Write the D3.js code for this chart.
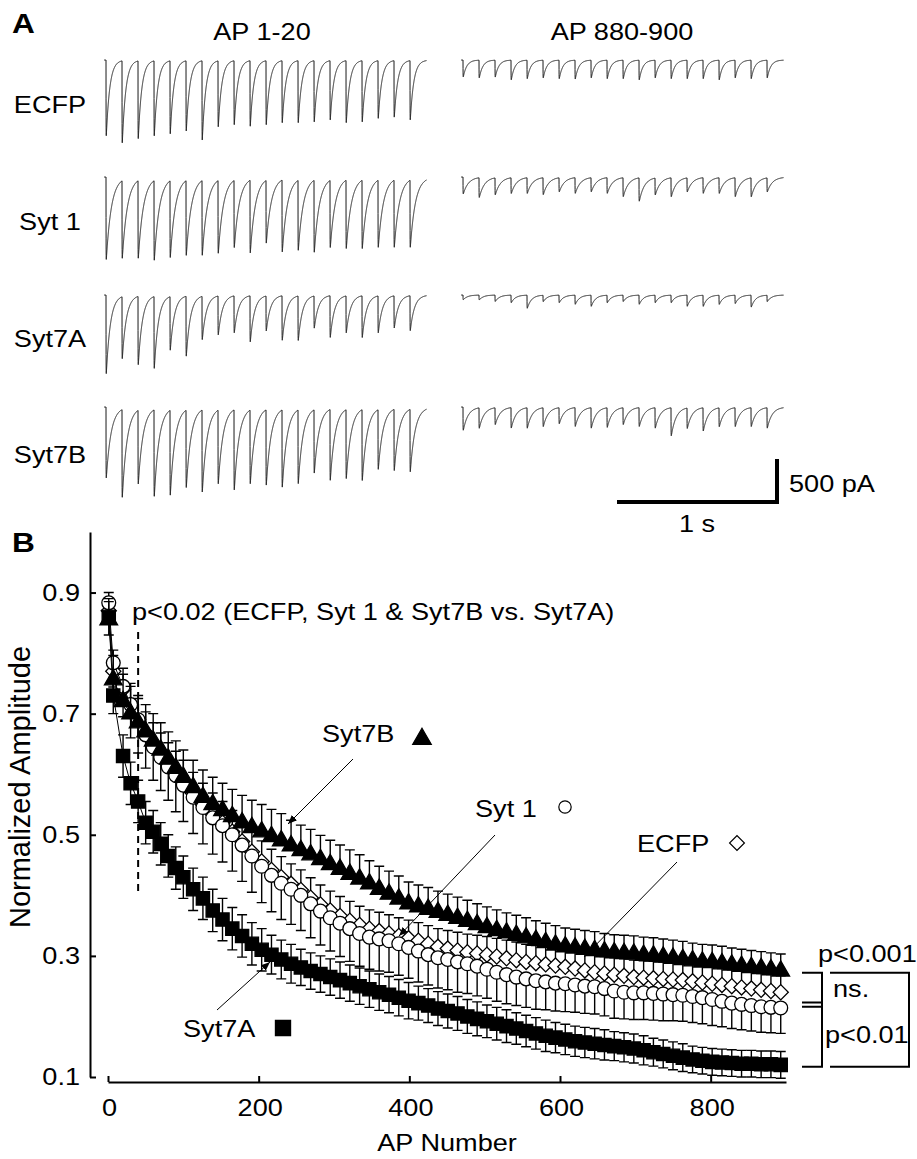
<!DOCTYPE html>
<html>
<head>
<meta charset="utf-8">
<title>Syt7 EPSC depression</title>
<script src="https://cdn.jsdelivr.net/npm/d3@7"></script>
<style>
  body { margin: 0; background: #fff; }
  svg text { font-family: "Liberation Sans", Arial, Helvetica, sans-serif; fill: #000; }
</style>
</head>
<body>
<svg id="fig" width="917" height="1159"></svg>
<script>
// ---------- panel A : peak EPSC amplitude (pA) of each of the 20 responses ----------
var traceNames = ["ECFP", "Syt 1", "Syt7A", "Syt7B"];
var ampEarlyECFP  = [965, 1045, 990, 955, 930, 895, 1010, 840, 815, 835, 815, 790, 790, 780, 755, 790, 780, 735, 720, 755];
var ampEarlySyt1  = [1025, 965, 965, 990, 955, 930, 930, 905, 835, 905, 780, 895, 870, 895, 835, 850, 850, 835, 835, 835];
var ampEarlySyt7A = [990, 780, 860, 905, 675, 755, 545, 490, 465, 580, 440, 560, 560, 405, 525, 465, 525, 465, 405, 440];
var ampEarlySyt7B = [885, 1095, 920, 1080, 1060, 965, 1025, 920, 1000, 920, 940, 965, 920, 790, 885, 860, 885, 745, 765, 780];
var ampLateECFP   = [215, 225, 215, 250, 235, 225, 235, 240, 225, 235, 235, 250, 225, 235, 235, 235, 250, 225, 235, 225];
var ampLateSyt1   = [210, 245, 210, 195, 195, 210, 175, 195, 175, 195, 235, 290, 210, 235, 175, 195, 195, 235, 235, 175];
var ampLateSyt7A  = [60, 60, 80, 95, 165, 80, 95, 115, 140, 95, 80, 115, 95, 95, 140, 140, 115, 105, 150, 80];
var ampLateSyt7B  = [290, 255, 210, 255, 255, 235, 200, 235, 255, 245, 210, 235, 255, 350, 255, 290, 235, 235, 235, 255];
var decayMs = [22, 32, 26, 30];   // EPSC decay time constant per row
var stimHz = 10;

// ---------- panel B : normalized amplitude vs AP number ----------
var apNumber = [1, 7, 20, 30, 40, 50, 60, 70, 80, 90, 100,
  113, 126, 139, 152, 165, 178, 191, 204, 217, 230,
  243, 256, 269, 282, 295, 308, 321, 334, 347, 360,
  373, 386, 399, 412, 425, 438, 451, 464, 477, 490,
  503, 516, 529, 542, 555, 568, 581, 594, 607, 620,
  633, 646, 659, 672, 685, 698, 711, 724, 737, 750,
  763, 776, 789, 802, 815, 828, 841, 854, 867, 880, 893];

var ecfpMean = [0.87, 0.77, 0.74, 0.715, 0.69, 0.668, 0.65, 0.633, 0.617, 0.603, 0.588,
  0.568, 0.55, 0.534, 0.52, 0.505, 0.489, 0.472, 0.456, 0.442, 0.43,
  0.419, 0.409, 0.396, 0.385, 0.375, 0.366, 0.358, 0.351, 0.345, 0.341,
  0.337, 0.333, 0.329, 0.325, 0.32, 0.315, 0.312, 0.309, 0.306, 0.304,
  0.302, 0.299, 0.296, 0.293, 0.29, 0.288, 0.286, 0.284, 0.282, 0.279,
  0.276, 0.273, 0.271, 0.269, 0.267, 0.265, 0.264, 0.263, 0.262, 0.261,
  0.26, 0.258, 0.256, 0.254, 0.252, 0.25, 0.248, 0.246, 0.244, 0.242, 0.24];
var ecfpSem = [0.03, 0.035, 0.035, 0.035, 0.035, 0.035, 0.035, 0.035, 0.035, 0.035, 0.035,
  0.035, 0.035, 0.035, 0.035, 0.035, 0.034, 0.034, 0.034, 0.034, 0.034,
  0.033, 0.033, 0.033, 0.032, 0.032, 0.032, 0.032, 0.031, 0.031, 0.031,
  0.031, 0.03, 0.03, 0.03, 0.03, 0.03, 0.03, 0.03, 0.03, 0.03,
  0.03, 0.03, 0.03, 0.03, 0.029, 0.029, 0.029, 0.029, 0.029, 0.029,
  0.029, 0.028, 0.028, 0.028, 0.028, 0.028, 0.028, 0.028, 0.028, 0.028,
  0.028, 0.028, 0.027, 0.027, 0.027, 0.027, 0.027, 0.027, 0.027, 0.027, 0.027];

var syt1Mean = [0.883, 0.784, 0.745, 0.715, 0.69, 0.665, 0.645, 0.628, 0.612, 0.598, 0.582,
  0.562, 0.545, 0.528, 0.515, 0.5, 0.483, 0.465, 0.448, 0.433, 0.42,
  0.41, 0.4, 0.386, 0.374, 0.363, 0.354, 0.345, 0.337, 0.331, 0.328,
  0.325, 0.32, 0.314, 0.308, 0.302, 0.297, 0.294, 0.29, 0.287, 0.283,
  0.278, 0.273, 0.269, 0.265, 0.262, 0.259, 0.257, 0.255, 0.254, 0.252,
  0.25, 0.249, 0.246, 0.242, 0.24, 0.239, 0.239, 0.238, 0.237, 0.236,
  0.235, 0.233, 0.231, 0.228, 0.225, 0.222, 0.22, 0.218, 0.216, 0.215, 0.214];
var syt1Sem = [0.03, 0.04, 0.05, 0.055, 0.055, 0.055, 0.055, 0.055, 0.055, 0.06, 0.06,
  0.06, 0.06, 0.06, 0.06, 0.06, 0.06, 0.06, 0.06, 0.06, 0.06,
  0.058, 0.058, 0.056, 0.056, 0.055, 0.055, 0.054, 0.054, 0.053, 0.053,
  0.052, 0.052, 0.051, 0.051, 0.05, 0.05, 0.05, 0.05, 0.049, 0.049,
  0.048, 0.048, 0.048, 0.047, 0.047, 0.047, 0.046, 0.046, 0.046, 0.045,
  0.045, 0.045, 0.045, 0.045, 0.044, 0.044, 0.044, 0.044, 0.044, 0.043,
  0.043, 0.043, 0.043, 0.043, 0.042, 0.042, 0.042, 0.042, 0.042, 0.042, 0.042];

var syt7aMean = [0.86, 0.73, 0.63, 0.585, 0.555, 0.52, 0.505, 0.485, 0.465, 0.445, 0.43,
  0.41, 0.395, 0.375, 0.36, 0.345, 0.333, 0.32, 0.31, 0.302, 0.294,
  0.287, 0.281, 0.275, 0.27, 0.265, 0.26, 0.255, 0.25, 0.245, 0.24,
  0.236, 0.231, 0.226, 0.222, 0.218, 0.213, 0.209, 0.205, 0.2, 0.196,
  0.192, 0.188, 0.184, 0.18, 0.176, 0.172, 0.168, 0.165, 0.162, 0.159,
  0.157, 0.155, 0.153, 0.151, 0.149, 0.147, 0.144, 0.141, 0.138, 0.135,
  0.132, 0.129, 0.127, 0.125, 0.124, 0.123, 0.122, 0.122, 0.121, 0.121, 0.12];
var syt7aSem = [0.03, 0.03, 0.035, 0.035, 0.035, 0.035, 0.035, 0.035, 0.035, 0.035, 0.035,
  0.035, 0.035, 0.035, 0.035, 0.035, 0.035, 0.035, 0.035, 0.032, 0.032,
  0.032, 0.03, 0.03, 0.03, 0.03, 0.03, 0.03, 0.03, 0.03, 0.03,
  0.03, 0.03, 0.03, 0.028, 0.028, 0.028, 0.028, 0.028, 0.028, 0.028,
  0.027, 0.027, 0.027, 0.026, 0.026, 0.026, 0.026, 0.025, 0.025, 0.025,
  0.025, 0.025, 0.025, 0.024, 0.024, 0.024, 0.024, 0.023, 0.023, 0.023,
  0.023, 0.022, 0.022, 0.022, 0.022, 0.022, 0.022, 0.022, 0.022, 0.022, 0.022];

var syt7bMean = [0.855, 0.756, 0.72, 0.70, 0.685, 0.67, 0.655, 0.64, 0.625, 0.61, 0.595,
  0.578, 0.562, 0.55, 0.54, 0.53, 0.52, 0.512, 0.505, 0.497, 0.49,
  0.482, 0.474, 0.467, 0.459, 0.451, 0.443, 0.435, 0.427, 0.419, 0.41,
  0.402, 0.394, 0.386, 0.381, 0.377, 0.372, 0.367, 0.362, 0.357, 0.352,
  0.347, 0.342, 0.338, 0.334, 0.33, 0.326, 0.322, 0.318, 0.315, 0.313,
  0.311, 0.309, 0.307, 0.305, 0.304, 0.303, 0.301, 0.3, 0.298, 0.296,
  0.294, 0.292, 0.29, 0.289, 0.287, 0.285, 0.283, 0.281, 0.279, 0.277, 0.275];
var syt7bSem = [0.03, 0.04, 0.045, 0.045, 0.045, 0.045, 0.045, 0.045, 0.045, 0.045, 0.045,
  0.045, 0.045, 0.045, 0.045, 0.045, 0.045, 0.045, 0.045, 0.045, 0.045,
  0.042, 0.042, 0.042, 0.04, 0.04, 0.04, 0.04, 0.04, 0.038, 0.038,
  0.038, 0.038, 0.036, 0.036, 0.036, 0.035, 0.035, 0.035, 0.035, 0.034,
  0.034, 0.034, 0.033, 0.033, 0.033, 0.032, 0.032, 0.032, 0.031, 0.031,
  0.031, 0.031, 0.03, 0.03, 0.03, 0.03, 0.03, 0.03, 0.03, 0.03,
  0.03, 0.029, 0.029, 0.029, 0.029, 0.028, 0.028, 0.028, 0.028, 0.028, 0.028];

var yTicks = [0.1, 0.3, 0.5, 0.7, 0.9];
var xTicks = [0, 200, 400, 600, 800];

// ---------------------------------------------------------------------
var SX = 1.13;   // the figure's lettering is a little wide
var svg = d3.select("#fig");

function txt(x, y, s, o) {
  o = o || {};
  return svg.append("text")
    .attr("transform", "translate(" + x + "," + y + ")" +
          (o.rot ? " rotate(" + o.rot + ")" : "") +
          " scale(" + (o.sx || SX) + ",1)")
    .attr("text-anchor", o.anchor || "start")
    .attr("font-size", o.size || 24)
    .attr("font-weight", o.bold ? "bold" : null)
    .text(s);
}

// ================= panel A =================
txt(12, 33, "A", {size: 28, bold: true});
txt(262, 40, "AP 1-20", {anchor: "middle"});
txt(622, 40, "AP 880-900", {anchor: "middle"});

var tScale = d3.scaleLinear().domain([0, 1]).range([0, 160]);   // s -> px
var iScale = d3.scaleLinear().domain([0, 500]).range([0, 43]);   // pA -> px
var rowBase = [60, 177, 295, 407];
var rowLabelY = [113, 230, 347, 463];
var blockX = [106, 463];
var earlyAmps = [ampEarlyECFP, ampEarlySyt1, ampEarlySyt7A, ampEarlySyt7B];
var lateAmps = [ampLateECFP, ampLateSyt1, ampLateSyt7A, ampLateSyt7B];

function epsc(amps, tau) {
  var pts = [], period = 1 / stimHz, tauS = tau / 1000;
  for (var t = -0.012; t <= (amps.length - 1) * period + 0.104; t += 0.00025) {
    var v = 0;
    for (var i = 0; i < amps.length; i++) {
      var dt = t - i * period;
      if (dt > 0) v += amps[i] * (1 - Math.exp(-dt / 0.0004)) * Math.exp(-dt / tauS);
    }
    pts.push([t, v]);
  }
  return pts;
}

traceNames.forEach(function(name, r) {
  txt(50, rowLabelY[r], name, {anchor: "middle"});
  [earlyAmps[r], lateAmps[r]].forEach(function(amps, b) {
    var line = d3.line()
      .x(function(d) { return blockX[b] + tScale(d[0]); })
      .y(function(d) { return rowBase[r] + iScale(d[1]); });
    svg.append("path")
      .attr("d", line(epsc(amps, decayMs[r])))
      .attr("fill", "none")
      .attr("stroke", "#1a1a1a")
      .attr("stroke-width", 1);
  });
});

// scale bar: 1 s, 500 pA
var sbX = 777, sbY = 502;
svg.append("path")
  .attr("d", "M" + (sbX - tScale(1)) + "," + sbY + "H" + sbX + "V" + (sbY - iScale(500)))
  .attr("fill", "none").attr("stroke", "#000").attr("stroke-width", 4);
txt(789, 492, "500 pA");
txt(697, 532, "1 s", {anchor: "middle"});

// ================= panel B =================
txt(12, 552, "B", {size: 28, bold: true});

var x = d3.scaleLinear().domain([0, 900]).range([108, 786]);
var y = d3.scaleLinear().domain([0.1, 1.0]).range([1077, 532]);

var yAxis = svg.append("g")
  .attr("transform", "translate(90,0)")
  .call(d3.axisLeft(y).tickValues(yTicks).tickFormat(d3.format(".1f"))
        .tickSizeInner(-6).tickSizeOuter(0).tickPadding(9));
var xAxis = svg.append("g")
  .attr("transform", "translate(0,1082)")
  .call(d3.axisBottom(x).tickValues(xTicks).tickSizeInner(-6).tickSizeOuter(0).tickPadding(17));

[yAxis, xAxis].forEach(function(g) {
  g.selectAll("path, line").attr("stroke", "#000").attr("stroke-width", 2);
  g.selectAll("text").attr("font-size", 24).attr("fill", "#000")
    .attr("font-family", "'Liberation Sans', Arial, sans-serif");
});
yAxis.selectAll("text").attr("x", null)
  .attr("transform", "translate(-10,0) scale(" + SX + ",1)");
xAxis.selectAll("text").attr("transform", "translate(1,0) scale(" + SX + ",1)");

txt(30, 787, "Normalized Amplitude", {rot: -90, anchor: "middle", size: 29, sx: 1});
txt(447, 1151, "AP Number", {anchor: "middle"});

// dashed line at AP 40
svg.append("line")
  .attr("x1", x(40)).attr("x2", x(40))
  .attr("y1", y(0.835)).attr("y2", y(0.40))
  .attr("stroke", "#000").attr("stroke-width", 2).attr("stroke-dasharray", "7,5");
txt(132, 620, "p<0.02 (ECFP, Syt 1 & Syt7B vs. Syt7A)");

var symSquare = d3.symbol().type(d3.symbolSquare).size(175)();
var symCircle = d3.symbol().type(d3.symbolCircle).size(150)();
var symTri = d3.symbol().type(d3.symbolTriangle).size(135)();
var symDiamond = d3.symbol().type(d3.symbolSquare).size(115)();

var series = [
  {mean: ecfpMean, sem: ecfpSem, up: true, down: false, path: symDiamond, rot: 45, fill: "#fff"},
  {mean: syt1Mean, sem: syt1Sem, up: false, down: true, path: symCircle, rot: 0, fill: "#fff"},
  {mean: syt7aMean, sem: syt7aSem, up: true, down: true, path: symSquare, rot: 0, fill: "#000"},
  {mean: syt7bMean, sem: syt7bSem, up: true, down: false, path: symTri, rot: 0, fill: "#000"}
];

series.forEach(function(s) {
  var pts = apNumber.map(function(ap, i) { return {ap: ap, m: s.mean[i], e: s.sem[i]}; });
  var g = svg.append("g");
  g.selectAll(".eb").data(pts).enter().append("path")
    .attr("fill", "none").attr("stroke", "#000").attr("stroke-width", 1.4)
    .attr("d", function(d) {
      var cx = x(d.ap), p = "";
      if (s.up) p += "M" + cx + "," + y(d.m) + "V" + y(d.m + d.e) + "M" + (cx - 5) + "," + y(d.m + d.e) + "h10";
      if (s.down) p += "M" + cx + "," + y(d.m) + "V" + y(d.m - d.e) + "M" + (cx - 5) + "," + y(d.m - d.e) + "h10";
      return p;
    });
  g.append("path")
    .attr("d", d3.line().x(function(d) { return x(d.ap); }).y(function(d) { return y(d.m); })(pts))
    .attr("fill", "none").attr("stroke", "#000").attr("stroke-width", 1);
  g.selectAll(".mk").data(pts).enter().append("path")
    .attr("d", s.path)
    .attr("transform", function(d) { return "translate(" + x(d.ap) + "," + y(d.m) + ") rotate(" + s.rot + ")"; })
    .attr("fill", s.fill).attr("stroke", "#000").attr("stroke-width", 1.3);
});

// labels with arrows
svg.append("defs").append("marker")
  .attr("id", "ah").attr("viewBox", "0 0 10 10").attr("refX", 10).attr("refY", 5)
  .attr("markerWidth", 9).attr("markerHeight", 9).attr("orient", "auto")
  .attr("markerUnits", "userSpaceOnUse")
  .append("path").attr("d", "M0,1L10,5L0,9Z").attr("fill", "#000");

function arrow(x1, y1, x2, y2) {
  svg.append("line").attr("x1", x1).attr("y1", y1).attr("x2", x2).attr("y2", y2)
    .attr("stroke", "#000").attr("stroke-width", 1).attr("marker-end", "url(#ah)");
}
function key(cx, cy, p, rot, fill) {
  svg.append("path").attr("d", p)
    .attr("transform", "translate(" + cx + "," + cy + ") rotate(" + rot + ")")
    .attr("fill", fill).attr("stroke", "#000").attr("stroke-width", 1.2);
}

txt(322, 742, "Syt7B");
key(422, 739, d3.symbol().type(d3.symbolTriangle).size(150)(), 0, "#000");
arrow(353, 759, 288, 824);

txt(475, 817, "Syt 1");
key(565, 807, d3.symbol().type(d3.symbolCircle).size(120)(), 0, "#fff");
arrow(495, 835, 399, 936);

txt(637, 852, "ECFP");
key(737, 843, d3.symbol().type(d3.symbolSquare).size(110)(), 45, "#fff");
arrow(677, 862, 584, 957);

txt(183, 1037, "Syt7A");
key(283, 1028, d3.symbol().type(d3.symbolSquare).size(230)(), 0, "#000");
arrow(217, 1010, 270, 962);

// significance brackets at the end of the train
var bk = svg.append("g").attr("fill", "none").attr("stroke", "#000").attr("stroke-width", 2);
bk.append("path").attr("d",
  "M802," + y(0.272) + "H822V" + y(0.117) + "H802" +
  "M802," + y(0.223) + "H822" + "M802," + y(0.216) + "H822");
bk.append("path").attr("d",
  "M830," + y(0.272) + "H909V" + y(0.117) + "H830");
txt(818, 962, "p<0.001");
txt(833, 997, "ns.");
txt(825, 1043, "p<0.01");
</script>
</body>
</html>
